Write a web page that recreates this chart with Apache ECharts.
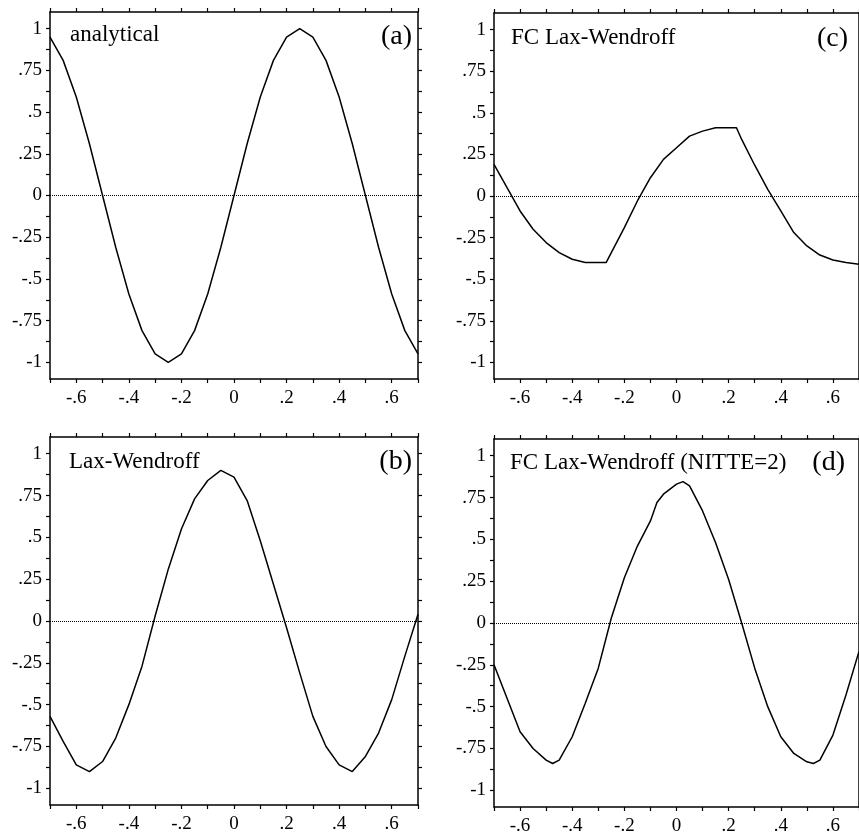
<!DOCTYPE html>
<html><head><meta charset="utf-8">
<script src="https://cdn.jsdelivr.net/npm/echarts@6/dist/echarts.min.js"></script>
<style>html,body{margin:0;padding:0;background:#fff}#c{width:859px;height:839px}</style>
</head><body><div id="c"></div>
<script>
// ---- data ----
const xStep = [-0.7,-0.65,-0.6,-0.55,-0.5,-0.45,-0.4,-0.35,-0.3,-0.25,-0.2,-0.15,-0.1,-0.05,0,0.05,0.1,0.15,0.2,0.25,0.3,0.35,0.4,0.45,0.5,0.55,0.6,0.65,0.7];
const analytical = [0.95,0.81,0.59,0.31,0.00,-0.31,-0.59,-0.81,-0.95,-1.00,-0.95,-0.81,-0.59,-0.31,0.00,0.31,0.59,0.81,0.95,1.00,0.95,0.81,0.59,0.31,0.00,-0.31,-0.59,-0.81,-0.95];
const laxWendroff = [-0.57,-0.72,-0.86,-0.90,-0.84,-0.70,-0.50,-0.27,0.03,0.31,0.55,0.73,0.84,0.90,0.86,0.72,0.48,0.22,-0.04,-0.31,-0.57,-0.75,-0.86,-0.90,-0.81,-0.67,-0.47,-0.21,0.04];
const fcX = [-0.7,-0.65,-0.6,-0.55,-0.5,-0.45,-0.4,-0.35,-0.3,-0.27,-0.25,-0.2,-0.15,-0.1,-0.05,0,0.05,0.1,0.15,0.2,0.23,0.25,0.3,0.35,0.4,0.45,0.5,0.55,0.6,0.65,0.7];
const fcLaxWendroff = [0.19,0.05,-0.09,-0.20,-0.28,-0.34,-0.38,-0.40,-0.40,-0.40,-0.34,-0.19,-0.03,0.11,0.22,0.29,0.36,0.39,0.41,0.41,0.41,0.34,0.185,0.04,-0.09,-0.22,-0.30,-0.355,-0.385,-0.40,-0.41];
const nitteX = [-0.7,-0.65,-0.6,-0.55,-0.5,-0.475,-0.45,-0.4,-0.35,-0.3,-0.25,-0.2,-0.15,-0.1,-0.075,-0.05,0,0.025,0.05,0.1,0.15,0.2,0.25,0.3,0.35,0.4,0.45,0.5,0.525,0.55,0.6,0.65,0.7];
const fcNitte2 = [-0.25,-0.45,-0.65,-0.75,-0.82,-0.84,-0.82,-0.68,-0.48,-0.27,0.03,0.27,0.46,0.61,0.72,0.77,0.83,0.845,0.82,0.67,0.48,0.26,0.00,-0.27,-0.50,-0.68,-0.78,-0.83,-0.84,-0.82,-0.67,-0.43,-0.17];

const xTickValues = [-0.7,-0.6,-0.5,-0.4,-0.3,-0.2,-0.1,0,0.1,0.2,0.3,0.4,0.5,0.6,0.7];
const xLabelValues = [-0.6,-0.4,-0.2,0,0.2,0.4,0.6];
const xLabelTexts = ['-.6','-.4','-.2','0','.2','.4','.6'];
const yTickValues = [-1,-0.875,-0.75,-0.625,-0.5,-0.375,-0.25,-0.125,0,0.125,0.25,0.375,0.5,0.625,0.75,0.875,1];
const yLabelValues = [-1,-0.75,-0.5,-0.25,0,0.25,0.5,0.75,1];
const yLabelTexts = ['-1','-.75','-.5','-.25','0','.25','.5','.75','1'];

const panelTitles = ['analytical','FC Lax-Wendroff','Lax-Wendroff','FC Lax-Wendroff (NITTE=2)'];
const panelTags = ['(a)','(c)','(b)','(d)'];

// ---- layout ----
const grids = [
  {left:50, top:12, width:368, height:367},
  {left:494, top:13, width:369, height:366},
  {left:50, top:437, width:368, height:368},
  {left:494, top:439, width:369, height:368}
];
const seriesData = [
  xStep.map((x,i)=>[x,analytical[i]]),
  fcX.map((x,i)=>[x,fcLaxWendroff[i]]),
  xStep.map((x,i)=>[x,laxWendroff[i]]),
  nitteX.map((x,i)=>[x,fcNitte2[i]])
];
const serif = '"Liberation Serif","DejaVu Serif",serif';
const lineSt = {color:'#000', width:1.5};
function lbl(vals, texts){ return v => { const k = vals.findIndex(t=>Math.abs(t-v)<1e-6); return k>=0?texts[k]:''; }; }

const xAxes=[], yAxes=[], series=[], graphics=[];
grids.forEach((g,i)=>{
  ['bottom','top'].forEach(pos=>{
    xAxes.push({gridIndex:i, type:'value', min:-0.7, max:0.7, position:pos,
      axisLine:{show:true,onZero:false,lineStyle:lineSt},
      axisTick:{show:true,inside:false,length:4,lineStyle:{color:'#000',width:1.2},customValues:xTickValues},
      axisLabel:{show:pos==='bottom', customValues:xLabelValues, formatter:lbl(xLabelValues,xLabelTexts),
        color:'#000', fontFamily:serif, fontSize:19, margin:10},
      splitLine:{show:false}});
  });
  ['left','right'].forEach(pos=>{
    yAxes.push({gridIndex:i, type:'value', min:-1.1, max:1.1, position:pos,
      axisLine:{show:true,onZero:false,lineStyle:lineSt},
      axisTick:{show:true,inside:false,length:4,lineStyle:{color:'#000',width:1.2},customValues:yTickValues},
      axisLabel:{show:pos==='left', customValues:yLabelValues, formatter:lbl(yLabelValues,yLabelTexts),
        color:'#000', fontFamily:serif, fontSize:19, margin:8},
      splitLine:{show:false}});
  });
  series.push({type:'line', xAxisIndex:2*i, yAxisIndex:2*i, data:seriesData[i], showSymbol:false,
    lineStyle:{color:'#000', width:1.5}, silent:true,
    markLine:{silent:true, symbol:['none','none'], label:{show:false},
      lineStyle:{type:'dotted', color:'#000', width:1}, data:[{yAxis:0}]}});
});

const titlePos = [[70,35],[511,38],[69,462],[510,463]];
const tagPos = [[412,37],[848,39],[412,462],[845,463]];
panelTitles.forEach((t,i)=>{
  graphics.push({type:'text', x:titlePos[i][0], y:titlePos[i][1], silent:true,
    style:{text:t, font:'23px '+serif, fill:'#000', textAlign:'left', textVerticalAlign:'middle'}});
  graphics.push({type:'text', x:tagPos[i][0], y:tagPos[i][1], silent:true,
    style:{text:panelTags[i], font:'28px '+serif, fill:'#000', textAlign:'right', textVerticalAlign:'middle'}});
});

const chart = echarts.init(document.getElementById('c'), null, {renderer:'canvas'});
chart.setOption({animation:false, backgroundColor:'#fff', grid:grids, xAxis:xAxes, yAxis:yAxes, series:series, graphic:graphics});
</script></body></html>
